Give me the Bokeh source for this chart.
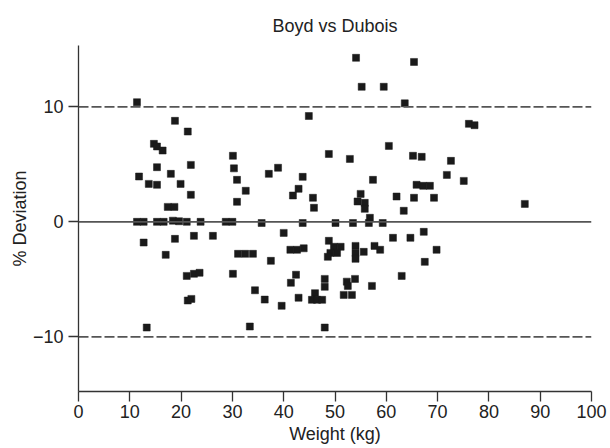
from bokeh.plotting import figure
from bokeh.models import Span, FixedTicker, Range1d
from bokeh.embed import file_html
from bokeh.resources import INLINE

# Weight (kg) and % deviation (Boyd vs Dubois)
weight = [
    11.4, 18.8, 21.3, 14.7, 15.3, 16.4, 30.1, 15.3, 21.9, 30.3,
    11.8, 18.0, 13.7, 15.3, 19.9, 30.9, 32.6, 21.9, 30.9, 17.4,
    18.7, 11.4, 12.7, 15.3, 16.6, 18.4, 19.6, 21.1, 23.8, 28.7,
    30.0, 12.7, 18.8, 22.5, 26.2, 17.0, 31.1, 32.5, 34.0, 21.1,
    22.5, 23.6, 30.1, 21.3, 22.0, 13.3, 34.4, 36.3, 33.4, 38.9,
    37.1, 43.7, 57.4, 42.9, 41.8, 45.7, 55.0, 62.0, 65.4, 45.9,
    54.4, 55.8, 55.8, 63.4, 56.8, 35.7, 43.7, 50.1, 53.5, 56.6,
    59.3, 40.0, 48.8, 61.3, 64.7, 54.0, 57.7, 58.8, 49.8, 51.1,
    49.1, 50.4, 48.6, 54.0, 55.6, 54.0, 41.3, 42.6, 43.9, 37.5,
    42.4, 41.4, 48.0, 48.0, 53.9, 52.3, 52.5, 57.2, 63.0, 42.9,
    51.7, 53.3, 39.6, 46.1, 45.5, 46.5, 47.5, 48.0, 54.1, 65.4,
    55.2, 59.5, 63.6, 44.9, 60.5, 48.8, 52.9, 65.2, 66.9, 72.6,
    76.1, 77.2, 71.8, 75.1, 65.9, 67.2, 68.5, 69.3, 87.0, 67.3,
    69.8, 67.5,
]
deviation = [
    10.4, 8.78, 7.85, 6.78, 6.55, 6.2, 5.74, 4.75, 4.95, 4.65,
    3.94, 4.17, 3.30, 3.22, 3.30, 3.65, 2.70, 2.35, 1.74, 1.30,
    1.30, 0.0, 0.0, 0.0, 0.0, 0.1, 0.05, 0.0, 0.0, 0.0,
    0.0, -1.8, -1.48, -1.22, -1.22, -2.87, -2.78, -2.78, -2.78, -4.7,
    -4.52, -4.43, -4.52, -6.84, -6.7, -9.19, -5.95, -6.76, -9.1, 4.7,
    4.17, 3.91, 3.65, 2.87, 2.29, 2.09, 2.43, 2.2, 2.09, 1.22,
    1.77, 1.65, 1.13, 0.96, 0.35, -0.1, -0.1, -0.1, -0.1, -0.1,
    -0.1, -0.96, -1.65, -1.39, -1.39, -2.09, -2.09, -2.43, -2.17, -2.17,
    -2.7, -2.7, -3.04, -2.7, -2.61, -3.22, -2.43, -2.43, -2.3, -3.39,
    -4.6, -5.3, -4.96, -5.65, -4.96, -5.2, -5.57, -5.57, -4.7, -6.6,
    -6.35, -6.35, -7.3, -6.2, -6.78, -6.78, -6.78, -9.19, 14.26, 13.9,
    11.74, 11.74, 10.3, 9.2, 6.6, 5.9, 5.47, 5.74, 5.65, 5.3,
    8.52, 8.4, 4.08, 3.56, 3.22, 3.13, 3.13, 2.09, 1.56, -0.87,
    -2.43, -3.48,
]

x_ticks = [0, 10, 20, 30, 40, 50, 60, 70, 80, 90, 100]
y_ticks = [-10, 0, 10]
limit_lines = [-10, 10]

FONT = "Liberation Sans"
TEXT = "#222222"
AXIS = "#333333"

p = figure(
    frame_width=513, frame_height=346,
    x_range=Range1d(0, 100), y_range=Range1d(-14.75, 15.33),
    output_backend="svg", toolbar_location=None,
    min_border_left=78, min_border_right=17,
    min_border_top=45, min_border_bottom=55,
    title="Boyd vs Dubois",
    x_axis_label="Weight (kg)", y_axis_label="% Deviation",
)

p.outline_line_color = None
p.grid.visible = False
p.background_fill_color = "white"
p.border_fill_color = "white"

p.title.text_font = FONT
p.title.text_font_size = "18px"
p.title.text_font_style = "normal"
p.title.text_color = TEXT
p.title.align = "center"
p.title.vertical_align = "top"
p.title.offset = -9
p.title.standoff = 15

for ax in (p.xaxis[0], p.yaxis[0]):
    ax.axis_line_color = AXIS
    ax.axis_line_width = 1.3
    ax.major_tick_line_color = AXIS
    ax.major_tick_line_width = 1.3
    ax.major_tick_out = 10
    ax.major_tick_in = 0
    ax.minor_tick_line_color = None
    ax.major_label_text_font = FONT
    ax.major_label_text_font_size = "18px"
    ax.major_label_text_color = TEXT
    ax.axis_label_text_font = FONT
    ax.axis_label_text_font_size = "18px"
    ax.axis_label_text_font_style = "normal"
    ax.axis_label_text_color = TEXT

p.xaxis.ticker = FixedTicker(ticks=x_ticks)
p.yaxis.ticker = FixedTicker(ticks=y_ticks)
p.yaxis.major_label_overrides = {t: (str(t).replace("-", "\u2212")) for t in y_ticks}
p.xaxis.major_label_standoff = 3
p.yaxis.major_label_standoff = 5
p.xaxis.axis_label_standoff = 3
p.yaxis.axis_label_standoff = 0

for v in limit_lines:
    p.add_layout(Span(location=v, dimension="width", line_color="#555555",
                      line_width=1.8, line_dash="10 3"))
p.add_layout(Span(location=0, dimension="width", line_color="#555555", line_width=1.8))

p.scatter(weight, deviation, marker="square", size=7, fill_color="#1a1a1a",
          line_color="#1a1a1a", line_width=0.5)

open("out.html", "w").write(file_html(p, INLINE))
